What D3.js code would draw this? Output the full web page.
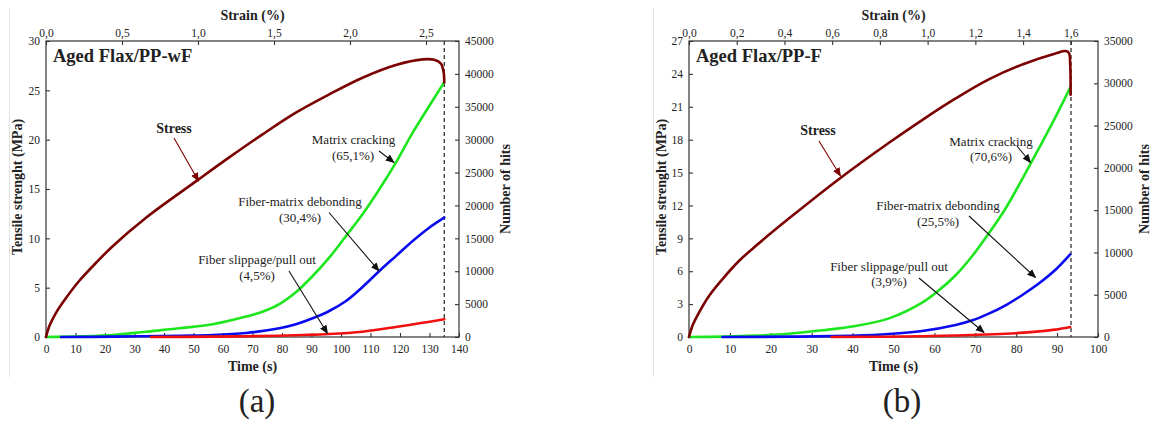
<!DOCTYPE html>
<html><head><meta charset="utf-8">
<script src="https://cdn.jsdelivr.net/npm/d3@7"></script>
<style>
body{margin:0;background:#fff;}
svg{display:block;}
text{font-family:"Liberation Serif","Times New Roman",serif;fill:#222;}
</style></head>
<body>
<svg id="c" width="1151" height="421"></svg>
<script>
// ---------- Data ----------
// Panel (a): Aged Flax/PP-wF   [time (s), value]
const stressA = [[0,0],[1.13,1.11],[3.39,2.45],[6.78,3.95],[11.3,5.7],[16.9,7.5],[22.6,9.2],[33.9,12.09],[51.4,15.9],[62.1,18.2],[73.4,20.54],[84.7,22.74],[96.0,24.59],[107.3,26.28],[118.6,27.57],[127.7,28.14],[131.6,28.1],[133.9,27.7],[134.8,26.8],[135.0,25.8]];
const matrixA = [[0,0],[11.3,100],[22.6,300],[33.9,810],[45.2,1320],[56.5,1930],[67.8,3100],[73.4,3850],[79.1,5000],[84.7,6800],[90.4,9270],[96.0,12060],[101.7,15360],[107.3,18650],[113,22450],[118.6,26500],[124.3,31070],[129.9,35120],[134.9,38670]];
const debondA = [[5.1,0],[22.6,50],[45.2,200],[56.5,300],[67.8,610],[79.1,1320],[84.7,1930],[90.4,2840],[96.0,3950],[101.7,5470],[107.3,7600],[113,10030],[118.6,12300],[124.3,14600],[129.9,16620],[135,18140]];
const slipA = [[35.6,0],[56.5,50],[79.1,200],[96.0,450],[107.3,810],[118.6,1520],[126.6,2080],[135,2690]];
// Panel (b): Aged Flax/PP-F
const stressB = [[0,0],[0.815,1.0],[2.44,2.22],[4.89,3.74],[8.15,5.26],[12.2,6.93],[16.3,8.3],[24.4,10.8],[37.1,14.53],[48.9,17.72],[57.0,19.79],[65.2,21.76],[73.3,23.5],[81.5,24.86],[89.6,25.87],[92.1,26.08],[92.9,25.9],[93.2,24.9],[93.3,22.1]];
const matrixB = [[0,0],[8.15,40],[16.3,160],[24.4,390],[32.6,790],[40.7,1300],[48.9,2200],[57.0,4060],[61.1,5520],[65.2,7300],[69.3,9600],[73.3,12250],[77.4,15200],[81.5,18700],[85.6,22350],[89.6,26000],[93.2,29480]];
const debondB = [[8.15,0],[24.4,40],[40.7,160],[48.9,350],[57.0,710],[65.2,1420],[69.3,1970],[73.3,2760],[77.4,3740],[81.5,4970],[85.6,6350],[89.6,7950],[93.2,9770]];
const slipB = [[34.9,0],[57,80],[69.3,240],[77.4,390],[85.6,670],[89.6,870],[93.2,1180]];

// tick values
const timeTicksA = d3.range(0,141,10);
const timeTicksB = d3.range(0,101,10);
const stressTicksA = [0,5,10,15,20,25,30];
const stressTicksB = [0,3,6,9,12,15,18,21,24,27];
const hitsTicksA = d3.range(0,45001,5000);
const hitsTicksB = d3.range(0,35001,5000);
const strainTicksA = [0,0.5,1.0,1.5,2.0,2.5];
const strainTicksB = [0,0.2,0.4,0.6,0.8,1.0,1.2,1.4,1.6];

const titles = ["Aged Flax/PP-wF","Aged Flax/PP-F"];
const labelsA = ["Matrix cracking","(65,1%)","Fiber-matrix debonding","(30,4%)","Fiber slippage/pull out","(4,5%)"];
const labelsB = ["Matrix cracking","(70,6%)","Fiber-matrix debonding","(25,5%)","Fiber slippage/pull out","(3,9%)"];

const C = {stress:"#7b0000", green:"#1ee61e", blue:"#0a0af0", red:"#f01010"};

const svg = d3.select("#c");
const defs = svg.append("defs");
function marker(id,color){
  defs.append("marker").attr("id",id).attr("viewBox","0 0 10 10").attr("refX",9).attr("refY",5)
   .attr("markerWidth",9).attr("markerHeight",9).attr("markerUnits","userSpaceOnUse").attr("orient","auto")
   .append("path").attr("d","M0,0.8 L10,5 L0,9.2 Z").attr("fill",color);
}
marker("ak","#111"); marker("ar",C.stress);

// faint frame lines
svg.append("line").attr("x1",9.5).attr("x2",9.5).attr("y1",8).attr("y2",377).attr("stroke","#e2e2e2");
svg.append("line").attr("x1",653.5).attr("x2",653.5).attr("y1",8).attr("y2",377).attr("stroke","#e2e2e2");

const comma = d => d3.format(".1f")(d).replace(".",",");

function panel(o){
  const g = svg.append("g");
  const x = d3.scaleLinear().domain([0,o.tmax]).range([o.x0,o.x1]);
  const yL = d3.scaleLinear().domain([0,o.smax]).range([o.y1,o.y0]);
  const yR = d3.scaleLinear().domain([0,o.hmax]).range([o.y1,o.y0]);
  const xs = d3.scaleLinear().domain([0,o.strainMax]).range([o.x0,o.x1]);

  const ax = (sel)=>{sel.select(".domain").remove(); sel.selectAll("line").attr("stroke","#333").attr("stroke-width",1.1);
     sel.selectAll("text").attr("font-size","11.5px").attr("fill","#222").style("font-family",'"Liberation Serif","Times New Roman",serif');};
  g.append("g").attr("transform",`translate(0,${o.y1})`).call(d3.axisBottom(x).tickValues(o.tt).tickSize(-4).tickPadding(8).tickFormat(d3.format("d"))).call(ax);
  g.append("g").attr("transform",`translate(0,${o.y0})`).call(d3.axisTop(xs).tickValues(o.st).tickSize(-4).tickPadding(4).tickFormat(comma)).call(ax);
  g.append("g").attr("transform",`translate(${o.x0},0)`).call(d3.axisLeft(yL).tickValues(o.sty).tickSize(-4).tickPadding(6).tickFormat(d3.format("d"))).call(ax);
  g.append("g").attr("transform",`translate(${o.x1},0)`).call(d3.axisRight(yR).tickValues(o.ht).tickSize(-4).tickPadding(6).tickFormat(d3.format("d"))).call(ax);

  g.append("rect").attr("x",o.x0).attr("y",o.y0).attr("width",o.x1-o.x0).attr("height",o.y1-o.y0)
    .attr("fill","none").attr("stroke","#333").attr("stroke-width",1.2);

  // dashed end line
  g.append("line").attr("x1",x(o.tend)).attr("x2",x(o.tend)).attr("y1",o.y0).attr("y2",o.y1)
    .attr("stroke","#222").attr("stroke-width",1.2).attr("stroke-dasharray","4,3");

  const cv = d3.curveCatmullRom.alpha(0.5);
  const lineH = d3.line().x(d=>x(d[0])).y(d=>yR(d[1])).curve(cv);
  const lineS = d3.line().x(d=>x(d[0])).y(d=>yL(d[1])).curve(cv);
  [[o.matrix,C.green],[o.debond,C.blue],[o.slip,C.red]].forEach(([d,c])=>{
    g.append("path").datum(d).attr("d",lineH).attr("fill","none").attr("stroke",c).attr("stroke-width",2.6).attr("stroke-linecap","round");
  });
  g.append("path").datum(o.stress).attr("d",lineS).attr("fill","none").attr("stroke",C.stress).attr("stroke-width",2.6).attr("stroke-linecap","round");

  // titles
  g.append("text").attr("x",o.x0+7).attr("y",62).attr("font-size","18.5px").attr("font-weight","bold").attr("fill","#111").text(o.title);
  g.append("text").attr("x",(o.x0+o.x1)/2).attr("y",20).attr("text-anchor","middle").attr("font-size","14px").attr("font-weight","bold").text("Strain (%)");
  g.append("text").attr("x",(o.x0+o.x1)/2).attr("y",371).attr("text-anchor","middle").attr("font-size","14px").attr("font-weight","bold").text("Time (s)");
  g.append("text").attr("transform",`translate(${o.ltx},187) rotate(-90)`).attr("text-anchor","middle").attr("font-size","14px").attr("font-weight","bold").text("Tensile strenght (MPa)");
  g.append("text").attr("transform",`translate(${o.rtx},189) rotate(-90)`).attr("text-anchor","middle").attr("font-size","14px").attr("font-weight","bold").text("Number of hits");
  g.append("text").attr("x",o.capx).attr("y",412).attr("text-anchor","middle").attr("font-size","33px").attr("fill","#111").text(o.cap);

  // annotations
  const a = o.ann;
  g.append("text").attr("x",a.stress[0]).attr("y",a.stress[1]).attr("text-anchor","middle").attr("font-size","14px").attr("font-weight","bold").attr("fill",C.stress).text("Stress");
  g.append("line").attr("x1",a.stressArr[0]).attr("y1",a.stressArr[1]).attr("x2",a.stressArr[2]).attr("y2",a.stressArr[3]).attr("stroke",C.stress).attr("stroke-width",1.1).attr("marker-end","url(#ar)");
  a.txt.forEach((t,i)=>{
    g.append("text").attr("x",t[0]).attr("y",t[1]).attr("text-anchor","middle").attr("font-size","13px").text(o.labels[i]);
  });
  a.arr.forEach(r=>{
    g.append("line").attr("x1",r[0]).attr("y1",r[1]).attr("x2",r[2]).attr("y2",r[3]).attr("stroke","#111").attr("stroke-width",1.1).attr("marker-end","url(#ak)");
  });
}

panel({x0:46,x1:459,y0:41,y1:337,tmax:140,smax:30,hmax:45000,strainMax:2.717,tend:135,
  tt:timeTicksA,st:strainTicksA,sty:stressTicksA,ht:hitsTicksA,
  stress:stressA,matrix:matrixA,debond:debondA,slip:slipA,title:titles[0],labels:labelsA,
  ltx:22,rtx:510,capx:257,cap:"(a)",
  ann:{stress:[174,133],stressArr:[174,138,198.5,181],
    txt:[[353.5,144],[353,159.5],[300,206],[300,222],[257,264],[257,279.5]],
    arr:[[379,151,394,162.5],[329,212.5,379,271],[289,271,327.5,333.5]]}
});
panel({x0:689,x1:1098,y0:41,y1:337,tmax:100,smax:27,hmax:35000,strainMax:1.714,tend:93.4,
  tt:timeTicksB,st:strainTicksB,sty:stressTicksB,ht:hitsTicksB,
  stress:stressB,matrix:matrixB,debond:debondB,slip:slipB,title:titles[1],labels:labelsB,
  ltx:666,rtx:1149,capx:902,cap:"(b)",
  ann:{stress:[818,135],stressArr:[819,141,840.5,176],
    txt:[[991,145.5],[991,161],[938,209.5],[938,225.5],[889,271],[889,286]],
    arr:[[1017,146,1030.5,162.5],[969,216,1035.5,277.5],[919,278,984,332.5]]}
});
</script>
</body></html>
